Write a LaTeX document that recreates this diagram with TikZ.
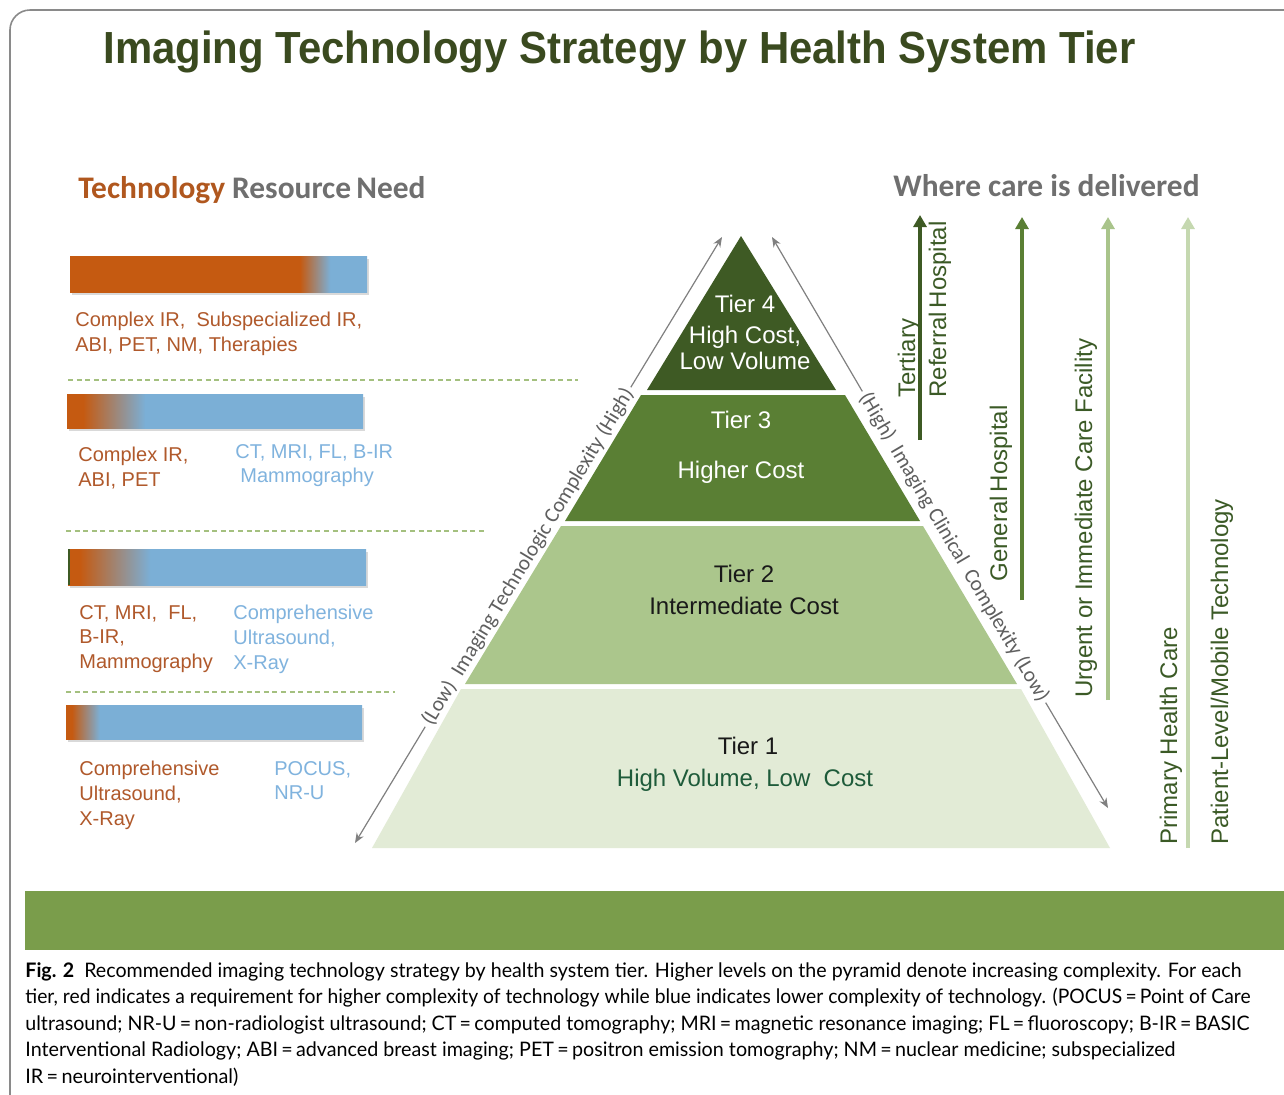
\documentclass[tikz,border=0pt]{standalone}
\usepackage{fontspec}
\usepackage{graphicx}
\setmainfont{Liberation Sans}
\newfontfamily\calib{Carlito}
\newfontfamily\capfont{Lato}
\usetikzlibrary{arrows.meta}
\definecolor{barorange}{HTML}{C55A11}
\definecolor{barblue}{HTML}{7BAFD6}
\definecolor{txtorange}{HTML}{B0592B}
\definecolor{txtblue}{HTML}{80B3DE}
\definecolor{dashgreen}{HTML}{A4C07F}
\definecolor{tierA}{HTML}{E2EBD6}
\definecolor{tierB}{HTML}{ABC68C}
\definecolor{tierC}{HTML}{5A7F34}
\definecolor{tierD}{HTML}{3E5A24}
\definecolor{tieronetxt}{HTML}{1E5B3A}
\definecolor{titlecol}{HTML}{3A4A1F}
\definecolor{headorange}{HTML}{B0571E}
\definecolor{headgrey}{HTML}{6F6F6F}
\definecolor{vgreen}{HTML}{3B5A26}
\definecolor{arrC}{HTML}{A9C48B}
\definecolor{arrD}{HTML}{C5D8B0}
\definecolor{capbar}{HTML}{7A9D4B}
\definecolor{diaggrey}{HTML}{808080}
\definecolor{diagtxt}{HTML}{5F5F5F}
\definecolor{framegrey}{HTML}{8A8A8A}
\pgfdeclarehorizontalshading{barone}{100bp}{color(0bp)=(barorange); color(63.7bp)=(barorange); color(68.8bp)=(barblue); color(100bp)=(barblue)}
\pgfdeclarehorizontalshading{bartwo}{100bp}{color(0bp)=(barorange); color(27.7bp)=(barorange); color(38.2bp)=(barblue); color(100bp)=(barblue)}
\pgfdeclarehorizontalshading{barthree}{100bp}{color(0bp)=(barorange); color(27bp)=(barorange); color(38.8bp)=(barblue); color(100bp)=(barblue)}
\pgfdeclarehorizontalshading{barfour}{100bp}{color(0bp)=(barorange); color(26bp)=(barorange); color(30.7bp)=(barblue); color(100bp)=(barblue)}
\tikzset{
  lbl/.style={font=\fontsize{10}{12.3}\selectfont, inner sep=0pt, anchor=north west, align=left},
  orangetxt/.style={lbl, text=txtorange},
  bluetxt/.style={lbl, text=txtblue},
  tiertxt/.style={font=\fontsize{12}{14.5}\selectfont, inner sep=0pt, anchor=north, align=center},
  diagarrow/.style={draw=diaggrey, line width=0.6pt, -{Stealth[length=5pt,width=4pt]}},
  diaglbl/.style={font=\calib\fontsize{10.6}{12}\selectfont, text=diagtxt, inner sep=1.5pt},
  vlbl/.style={rotate=90, anchor=base west, inner sep=0pt, font=\fontsize{12}{14}\selectfont, text=vgreen},
  varrow/.style={line width=2pt, -{Triangle[length=6pt,width=6.5pt]}},
  dashline/.style={draw=dashgreen, line width=1pt, dash pattern=on 2.5pt off 1.8pt},
  shadowbox/.style={fill=black, opacity=0.15},
  capline/.style={anchor=base west, inner sep=0pt}
}
\newcommand{\capsize}{\capfont\fontsize{10}{12}\selectfont}
\begin{document}
\begin{tikzpicture}[x=0.5pt,y=-0.5pt]
\useasboundingbox (0,0) rectangle (1284,1094);
\fill[white] (0,0) rectangle (1284,1094);
% frame
\draw[framegrey, line width=0.8pt, rounded corners=10pt] (10,1110) -- (10,10) -- (1300,10);

% title
\node[anchor=base west, inner sep=0pt, text=titlecol] (title) at (103,63)
  {\resizebox{516pt}{\height}{\fontsize{22.5}{24}\selectfont\bfseries Imaging Technology Strategy by Health System Tier}};

% headings
\node[anchor=base west, inner sep=0pt] (lhead) at (78,198)
  {\calib\fontsize{15.7}{17}\selectfont\bfseries\textcolor{headorange}{Technology} \textcolor{headgrey}{Resource\,Need}};
\node[anchor=base west, inner sep=0pt, text=headgrey] (rhead) at (893,196)
  {\calib\fontsize{15.7}{17}\selectfont\bfseries Where care is delivered};

% ---- bars ----
\fill[shadowbox] (72,259) rectangle (369,295);
\shade[shading=barone] (70,256) rectangle (367,292);
\fill[shadowbox] (69,397) rectangle (365,431);
\shade[shading=bartwo] (67,394) rectangle (363,428);
\fill[shadowbox] (70,552) rectangle (368,588);
\shade[shading=barthree] (68,549) rectangle (366,585);
\fill[tierD] (68,549) rectangle (70,585);
\fill[shadowbox] (68,708) rectangle (364,742);
\shade[shading=barfour] (66,705) rectangle (362,739);

% dashed separators
\coordinate (d1a) at (68,380);  \coordinate (d1b) at (578,380);
\coordinate (d2a) at (66,531);  \coordinate (d2b) at (484,531);
\coordinate (d3a) at (66,692);  \coordinate (d3b) at (395,692);
\draw[dashline] (d1a) -- (d1b);
\draw[dashline] (d2a) -- (d2b);
\draw[dashline] (d3a) -- (d3b);

% left texts
\node[orangetxt] (t1o) at (75,312) {Complex IR,\ \ Subspecialized IR,\\ABI,\ PET,\ NM,\ Therapies};
\node[orangetxt] (t2o) at (78,447) {Complex IR,\\ABI,\ PET};
\node[bluetxt] (t2b) at (235,444) {CT,\ MRI,\ FL,\ B-IR\\\hspace*{2.5pt}Mammography};
\node[orangetxt] (t3o) at (79,605) {CT,\ MRI,\ \ FL,\\B-IR,\\Mammography};
\node[bluetxt] (t3b) at (233,605) {Comprehensive\\Ultrasound,\\X-Ray};
\node[orangetxt] (t4o) at (79,761) {Comprehensive\\Ultrasound,\\X-Ray};
\node[bluetxt] (t4b) at (274,761) {POCUS,\\NR-U};

% ---- pyramid ----
\fill[tierA] (461,689) -- (1021,689) -- (1110,848) -- (372,848) -- cycle;
\fill[tierB] (561,526) -- (923,526) -- (1017,684) -- (465,684) -- cycle;
\fill[tierC] (641,395) -- (845,395) -- (920,521) -- (565,521) -- cycle;
\fill[tierD] (741,236) -- (836,390) -- (647,390) -- cycle;

\node[tiertxt, text=white] (tier4) at (745,295) {Tier 4\\[0.6pt]High Cost,\\[-1.5pt]Low Volume};
\node[tiertxt, text=white] (tier3) at (741,411) {Tier 3\\[10.5pt]Higher Cost};
\node[tiertxt, text=black!90] (tier2) at (744,565) {Tier 2\\[1.5pt]Intermediate Cost};
\node[tiertxt, text=black!90] (tier1l) at (748,737) {Tier 1};
\node[tiertxt, text=tieronetxt] (tier1m) at (745,769) {High Volume, Low\ \ Cost};

% ---- diagonal complexity arrows ----
\coordinate (lbot) at (355,843);
\coordinate (ltop) at (722,237);
\node[diaglbl, rotate=58.8] (ltxt) at (528,557) {(Low)\ \ Imaging Technologic Complexity (High)};
\draw[diagarrow] (ltxt.east) -- (ltop);
\draw[diagarrow] (ltxt.west) -- (lbot);

\coordinate (rtop) at (772,237);
\coordinate (rbot) at (1108,808);
\node[diaglbl, rotate=-59.5] (rtxt) at (954,547) {(High)\ \ Imaging Clinical\ \ Complexity (Low)};
\draw[diagarrow] (rtxt.west) -- (rtop);
\draw[diagarrow] (rtxt.east) -- (rbot);

% ---- where care is delivered ----
\coordinate (v1b) at (920,440);  \coordinate (v1t) at (920,215);
\coordinate (v2b) at (1022,600); \coordinate (v2t) at (1022,217);
\coordinate (v3b) at (1108,700); \coordinate (v3t) at (1108,217);
\coordinate (v4b) at (1188,848); \coordinate (v4t) at (1188,217);
\draw[varrow, tierD] (v1b) -- (v1t);
\draw[varrow, tierC] (v2b) -- (v2t);
\draw[varrow, arrC] (v3b) -- (v3t);
\draw[varrow, arrD] (v4b) -- (v4t);

\node[vlbl] (tert) at (915,398) {Tertiary};
\node[vlbl] (refh) at (946,398) {Referral\,Hospital};
\node[vlbl] (genh) at (1007,582) {General\,Hospital};
\node[vlbl] (urg) at (1092,698) {Urgent or Immediate Care Facility};
\node[vlbl] (phc) at (1177,845) {Primary Health Care};
\node[vlbl] (plm) at (1228,845) {Patient-Level/Mobile Technology};

% ---- caption ----
\fill[capbar] (25,891) rectangle (1290,950);
\node[capline] (cap1) at (25,977) {\resizebox{608pt}{\height}{\capsize\textbf{Fig. 2}\ \ Recommended imaging technology strategy by health system tier. Higher levels on the pyramid denote increasing complexity. For each}};
\node[capline] (cap2) at (25,1003) {\resizebox{612.5pt}{\height}{\capsize tier, red indicates a requirement for higher complexity of technology while blue indicates lower complexity of technology. (POCUS\,=\,Point of Care}};
\node[capline] (cap3) at (25,1030) {\resizebox{612pt}{\height}{\capsize ultrasound; NR-U\,=\,non-radiologist ultrasound; CT\,=\,computed tomography; MRI\,=\,magnetic resonance imaging; FL\,=\,fluoroscopy; B-IR\,=\,BASIC}};
\node[capline] (cap4) at (25,1056) {\resizebox{575pt}{\height}{\capsize Interventional Radiology; ABI\,=\,advanced breast imaging; PET\,=\,positron emission tomography; NM\,=\,nuclear medicine; subspecialized}};
\node[capline] (cap5) at (25,1083) {\resizebox{106.5pt}{\height}{\capsize IR\,=\,neurointerventional)}};
\end{tikzpicture}
\end{document}
